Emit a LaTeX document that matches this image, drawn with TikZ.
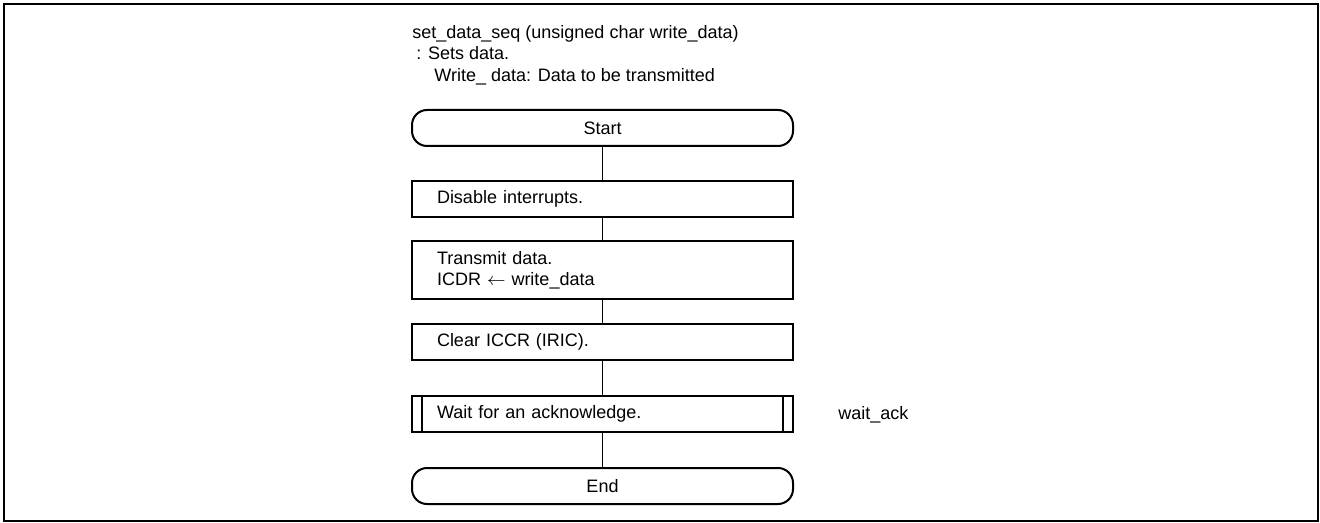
\documentclass[tikz,border=0pt]{standalone}
\usepackage{fontspec}
\setmainfont{Liberation Sans}
\usetikzlibrary{positioning}
\newcommand{\flowfont}{\fontsize{9pt}{10.75pt}\selectfont}
\tikzset{
    % Base Block Style
    process/.style={
        rectangle,
        draw=black,
        line width=1pt,
        outer sep=0pt,
        minimum width=190.5pt,
        minimum height=18pt,
        text width=165.5pt,
        inner xsep=12.5pt,
        inner ysep=0pt,
        align=left,
        font=\flowfont
    },
    % Specific Role Styles
    stepTerm/.style={process, rounded corners=7.5pt, align=center},
    stepTall/.style={process, minimum height=29pt},
    stepSub/.style={process,
        path picture={
            \draw [line width=1pt] ([xshift=5pt]path picture bounding box.north west) -- ([xshift=5pt]path picture bounding box.south west);
            \draw [line width=1pt] ([xshift=-5pt]path picture bounding box.north east) -- ([xshift=-5pt]path picture bounding box.south east);
        }
    },
    % Connector & Label Styles
    link/.style={draw=black, line width=0.5pt},
    noteText/.style={inner sep=0pt, font=\flowfont},
    frame/.style={draw=black, line width=0.85pt}
}
\begin{document}
\begin{tikzpicture}[x=0.5pt, y=-0.5pt]

    \useasboundingbox (0,0) rectangle (1320,523);
    \draw [frame] (4,4) rectangle (1318,521);

    % --- Header ---
    \node (header) [noteText, anchor=north west, align=left] at (412,25) {
        set\_data\_seq (unsigned char write\_data)\\
        \hspace*{2pt}: Sets data.\\
        \hspace*{11pt}Write\_ data: Data to be transmitted
    };

    % --- Flow ---
    \node (start) [stepTerm] at (602.5,128) {Start};
    \node (disable) [process, below=17.5pt of start] {Disable interrupts.};
    \node (transmit) [stepTall, below=12.25pt of disable] {
        Transmit data.\\
        ICDR $\leftarrow$ write\_data
    };
    \node (clear) [process, below=12.25pt of transmit] {Clear ICCR (IRIC).};
    \node (wait) [stepSub, below=18pt of clear] {Wait for an acknowledge.};
    \node (finish) [stepTerm, below=18pt of wait] {End};

    % subroutine name
    \node (waitName) [noteText, anchor=west] at (838,415) {wait\_ack};

    % --- Connectors ---
    \draw [link] (start) -- (disable);
    \draw [link] (disable) -- (transmit);
    \draw [link] (transmit) -- (clear);
    \draw [link] (clear) -- (wait);
    \draw [link] (wait) -- (finish);

\end{tikzpicture}
\end{document}
